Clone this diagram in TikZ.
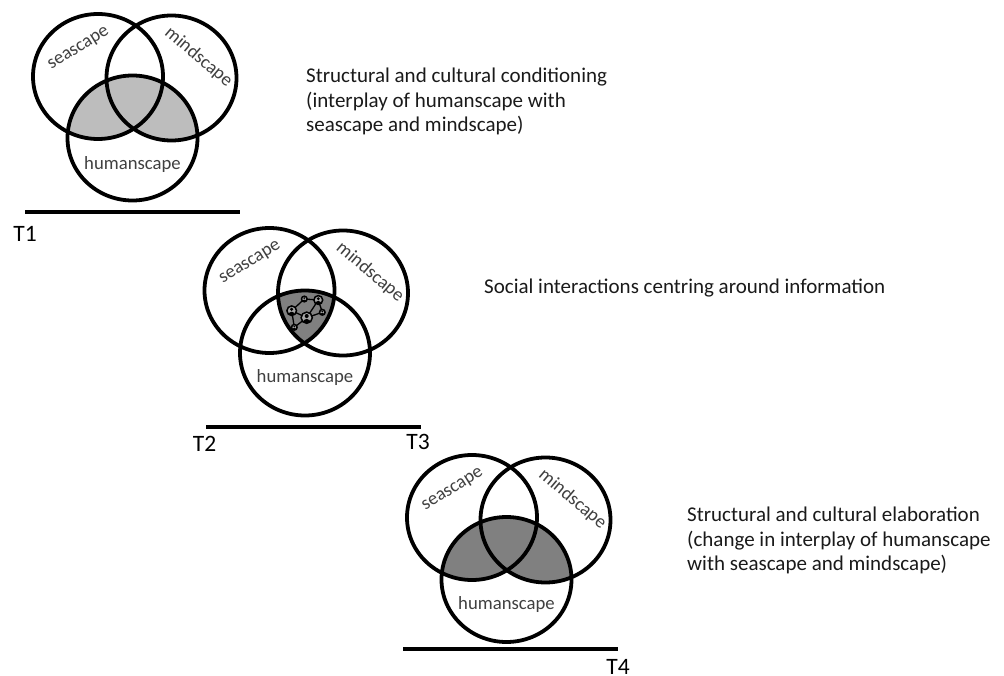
\documentclass[tikz,border=0pt]{standalone}
\usepackage{fontspec}
\setmainfont{Carlito}
\usetikzlibrary{calc}
\definecolor{ink}{HTML}{1A1A1A}
\definecolor{lab}{HTML}{404040}
\tikzset{
  ring/.style={draw=black,line width=3.8pt,fill=none},
  baseline rule/.style={draw=black,line width=3.4pt},
  venn label/.style={text=lab,font=\fontsize{18.7}{20}\selectfont,inner sep=0pt},
  caption/.style={text=ink,font=\fontsize{21}{24.3}\selectfont,align=left,anchor=north west,inner sep=0pt},
  tick/.style={text=black,font=\fontsize{23.5}{24}\selectfont,inner sep=0pt},
  netedge/.style={draw=black,line width=1.3pt},
  netnode/.style={circle,draw=black,fill=black!35,inner sep=0pt,line width=1.5pt},
}
\newcommand{\ellipsepath}[1]{(#1) ellipse [x radius=65,y radius=62.5]}
\newcommand{\ringset}[5]{%
  \draw[ring] \ellipsepath{#1};
  \draw[ring] \ellipsepath{#2};
  \draw[ring] \ellipsepath{#3};
  \node[venn label,rotate=32] (#4sea) at ($(#1)+(-19,-27.5)$) {seascape};
  \node[venn label,rotate=-40] (#4mind) at ($(#2)+(27,-21)$) {mindscape};
  \node[venn label] (#4hum) at ($(#3)+(0,#5)$) {humanscape};
}
\newcommand{\person}[2]{%
  \node[netnode,minimum size=#2*2pt] (#1) at (#1c) {};
  \begin{scope}
    \clip (#1c) circle (#2);
    \fill[black] ($(#1c)+(0,-0.3*#2)$) circle (0.36*#2);
    \fill[black] ($(#1c)+(0,1.0*#2)$) ellipse [x radius=0.72*#2,y radius=0.8*#2];
  \end{scope}
}
\begin{document}
\begin{tikzpicture}[x=1pt,y=-1pt]
\useasboundingbox (0,0) rectangle (1004,676);
\fill[white] (0,0) rectangle (1004,676);
\begin{scope}
  \clip \ellipsepath{132.5,138};
  \fill[black!26] \ellipsepath{98,76.5};
  \fill[black!26] \ellipsepath{171.5,78};
\end{scope}
\begin{scope}
  \clip \ellipsepath{305,353};
  \clip \ellipsepath{269.5,290.5};
  \fill[black!50] \ellipsepath{343,293};
\end{scope}
\begin{scope}
  \clip \ellipsepath{506.5,579.5};
  \fill[black!50] \ellipsepath{472,517.5};
  \fill[black!50] \ellipsepath{545.5,520};
\end{scope}
\ringset{98,76.5}{171.5,78}{132.5,138}{a}{27}
\ringset{269.5,290.5}{343,293}{305,353}{b}{25}
\ringset{472,517.5}{545.5,520}{506.5,579.5}{c}{25}
\coordinate (n1c) at (306.7,317.7);
\coordinate (n2c) at (291.7,310.7);
\coordinate (n3c) at (318.3,300);
\coordinate (n4c) at (304.3,299);
\coordinate (n5c) at (322.3,312.3);
\coordinate (n6c) at (294.3,327.3);
\draw[netedge] (n2c)--(n4c);
\draw[netedge] (n4c)--(n3c);
\draw[netedge] (n3c)--(n5c);
\draw[netedge] (n3c)--(n1c);
\draw[netedge] (n1c)--(n5c);
\draw[netedge] (n2c)--(n1c);
\draw[netedge] (n2c)--(n6c);
\draw[netedge] (n6c)--(n1c);
\person{n1}{5.6}
\person{n2}{4.8}
\person{n3}{4.4}
\person{n4}{2.8}
\person{n5}{2.8}
\person{n6}{2.8}
\coordinate (r1a) at (25,212); \coordinate (r1b) at (240,212);
\coordinate (r2a) at (206,427); \coordinate (r2b) at (421,427);
\coordinate (r3a) at (403,649); \coordinate (r3b) at (618,649);
\draw[baseline rule] (r1a)--(r1b);
\draw[baseline rule] (r2a)--(r2b);
\draw[baseline rule] (r3a)--(r3b);
\node[tick] (t1) at (25,234) {T1};
\node[tick] (t2) at (204.5,444) {T2};
\node[tick] (t3) at (418,442) {T3};
\node[tick] (t4) at (618,667) {T4};
\node[caption] (c1) at (306,68) {Structural and cultural conditioning\\(interplay of humanscape with\\seascape and mindscape)};
\node[caption] (c2) at (484,279) {Social interactions centring around information};
\node[caption] (c3) at (687,507) {Structural and cultural elaboration\\(change in interplay of humanscape\\with seascape and mindscape)};
\end{tikzpicture}
\end{document}
